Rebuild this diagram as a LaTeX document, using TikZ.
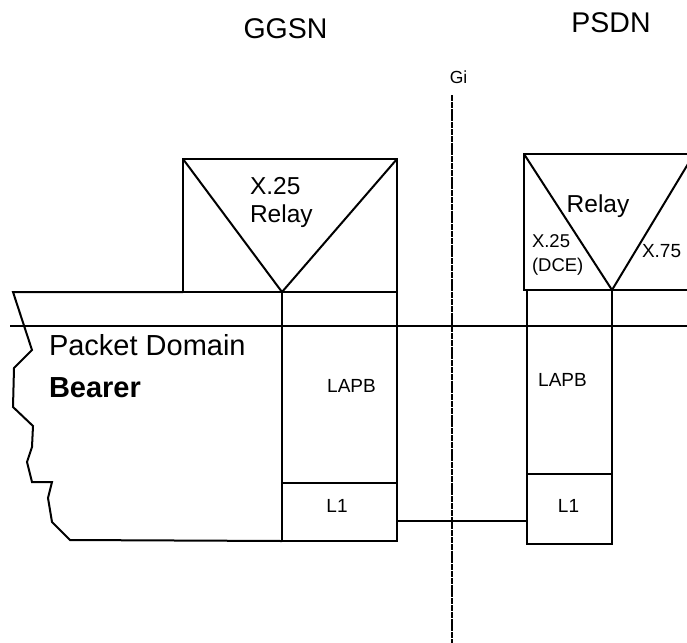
\documentclass[tikz,border=0pt]{standalone}
\usepackage{fontspec}
\setmainfont{Liberation Sans}
\usetikzlibrary{calc}
\begin{document}
\begin{tikzpicture}[x=1pt,y=-1pt,
  line/.style={line width=2pt,line join=miter},
  thinline/.style={line width=1.7pt},
  box/.style={draw,line width=2pt,rectangle,inner sep=0pt,outer sep=0pt,anchor=north west},
  area/.style={rectangle,inner sep=0pt,outer sep=0pt,anchor=north west},
  gidash/.style={line width=2.8pt,dash pattern=on 6pt off 0.8pt},
  txt/.style={inner sep=0pt,outer sep=0pt,anchor=base},
  txtw/.style={inner sep=0pt,outer sep=0pt,anchor=base west},
  fbig/.style={font=\fontsize{28.5}{33}\selectfont},
  fmid/.style={font=\fontsize{24.5}{29}\selectfont},
  fsmall/.style={font=\fontsize{19}{23}\selectfont},
  fsm2/.style={font=\fontsize{18.5}{22}\selectfont},
  ftiny/.style={font=\fontsize{17.5}{20}\selectfont}]
\useasboundingbox (0,0) rectangle (687,642);
\clip (0,0) rectangle (687,642);

% titles
\node[txt,fbig] (ggsn) at (285.5,39) {GGSN};
\node[txt,fbig] (psdn) at (611,33) {PSDN};
\node[txt,ftiny] (gi) at (458.5,83) {Gi};

% Gi reference line
\coordinate (gitop) at (452,95);
\coordinate (gibot) at (452,645);
\draw[gidash] (gitop) -- (gibot);

% GGSN relay box
\node[box,minimum width=214pt,minimum height=133pt] (grelay) at (183,159) {};
\coordinate (gapex) at (282,292);
\draw[line] (grelay.north west) -- (gapex) -- (grelay.north east);
\node[txtw,fmid] (gx25) at (250,194) {X.25};
\node[txtw,fmid] (grel) at (250,222) {Relay};

% GGSN protocol column
\node[box,minimum width=115pt,minimum height=191pt] (glapb) at (282,292) {};
\node[box,minimum width=115pt,minimum height=58pt] (gl1) at (282,483) {};
\node[txt,fsmall] at (351.5,392) {LAPB};
\node[txt,fsmall] at (337,512) {L1};

% Packet domain bearer outline
\coordinate (pdtop) at (13,292);
\draw[line] (grelay.south west) -- (pdtop)
  -- (32,350) -- (14,368) -- (13,407) -- (33,426) -- (32,447) -- (27,462)
  -- (32,482) -- (52,482) -- (48,498) -- (52,522) -- (70,540)
  -- (gl1.south west);
\draw[thinline] (10,326) -- (687,326);
\node[txtw,font=\fontsize{29}{34}\selectfont] (pd) at (49,355) {Packet Domain};
\node[txtw,font=\fontsize{29}{34}\selectfont\bfseries] (bearer) at (49,397) {Bearer};

% PSDN relay box (open to the right)
\node[area,minimum width=88pt,minimum height=136pt] (prelay) at (524,154) {};
\coordinate (papex) at (612,290);
\coordinate (ptopr) at (694,154);
\draw[line] (687,154) -- (prelay.north west) -- (prelay.south west) -- (687,290);
\draw[line] (prelay.north west) -- (papex) -- (ptopr);
\node[txt,fmid] (prel) at (598,212) {Relay};
\node[txtw,fsm2] (px25) at (532,247) {X.25};
\node[txtw,fsm2] (pdce) at (532,271) {(DCE)};
\node[txtw,font=\fontsize{19}{23}\selectfont] (px75) at (642,257) {X.75};

% PSDN protocol column
\node[box,minimum width=85pt,minimum height=184pt] (plapb) at (527,290) {};
\node[box,minimum width=85pt,minimum height=70pt] (pl1) at (527,474) {};
\node[txt,fsmall] at (562.5,386) {LAPB};
\node[txt,fsmall] at (568.5,512) {L1};

% L1 link
\coordinate (lk) at ($(gl1.south east)!0.345!(gl1.north east)$);
\draw[thinline] (lk) -- (pl1.west |- lk);
\end{tikzpicture}
\end{document}
